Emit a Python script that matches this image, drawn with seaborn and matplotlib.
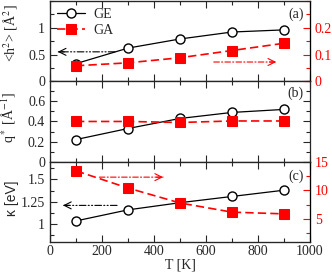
import numpy as np
import pandas as pd
import seaborn as sns
import matplotlib
matplotlib.use("Agg")
import matplotlib.pyplot as plt
from matplotlib.ticker import MultipleLocator, FixedLocator, FuncFormatter

# ---------------- data ----------------
T = [100, 300, 500, 700, 900]
h2_GE = [0.33, 0.62, 0.79, 0.92, 0.96]
h2_GA = [0.058, 0.069, 0.088, 0.115, 0.142]
q_GE = [0.22, 0.33, 0.43, 0.49, 0.52]
q_GA = [0.40, 0.40, 0.39, 0.405, 0.405]
k_GE = [1.036, 1.16, 1.24, 1.31, 1.38]
k_GA = [13.4, 10.4, 7.8, 6.2, 5.9]
series_labels = ["GE", "GA"]
panel_labels = ["(a)", "(b)", "(c)"]
x_ticks = [0, 200, 400, 600, 800, 1000]

# arrows: (x_start, x_end, y)
arrow_a_left = (250, 30, 0.55)
arrow_a_right = (630, 870, 0.072)
arrow_c_left = (258, 50, 1.21)
arrow_c_right = (190, 435, 12.3)

df = pd.DataFrame({"T": T, "h2_GE": h2_GE, "h2_GA": h2_GA, "q_GE": q_GE,
                   "q_GA": q_GA, "k_GE": k_GE, "k_GA": k_GA})

sns.set_style("ticks")
plt.rcParams["font.family"] = ["Liberation Serif", "DejaVu Serif"]
plt.rcParams["mathtext.fontset"] = "stix"
plt.rcParams["font.size"] = 10

RED = "#ff0000"
fig = plt.figure(figsize=(3.32, 2.73), dpi=100)
L, W, H = 0.1506, 0.7831, 0.2943
ax_a = fig.add_axes([L, 0.7022, W, H])
ax_b = fig.add_axes([L, 0.4079, W, H], sharex=ax_a)
ax_c = fig.add_axes([L, 0.1136, W, H], sharex=ax_a)

ge_kw = dict(color="black", marker="o", markersize=6.5, markerfacecolor="white",
             markeredgecolor="black", markeredgewidth=1.0, linewidth=0.9)
ga_kw = dict(color=RED, marker="s", markersize=6.5, markerfacecolor=RED,
             markeredgecolor=RED, linewidth=1.2, linestyle=(0, (5, 2.5)))


def style_axis(ax, right_mirror=True):
    ax.set_xlim(0, 1000)
    ax.xaxis.set_major_locator(FixedLocator(x_ticks))
    ax.xaxis.set_minor_locator(MultipleLocator(100))
    ax.tick_params(axis="both", which="both", direction="in", top=True,
                   right=right_mirror, labelsize=10, width=0.8)
    ax.tick_params(which="major", length=5)
    ax.tick_params(which="minor", length=3)
    for s in ax.spines.values():
        s.set_linewidth(0.9)
    ax.set_xlabel("")


def style_twin(tw):
    tw.tick_params(axis="y", which="both", direction="in", colors=RED,
                   labelcolor=RED, labelsize=10, width=0.8)
    tw.tick_params(which="major", length=5)
    tw.tick_params(which="minor", length=3)
    tw.spines["right"].set_color("black")
    tw.set_ylabel("")


def dash_arrow(ax, spec, color, ls):
    x0, x1, y = spec
    ax.annotate("", xy=(x1, y), xytext=(x0, y),
                arrowprops=dict(arrowstyle="-", color=color, lw=0.8,
                                linestyle=ls, shrinkA=0, shrinkB=0))
    d = 25 if x1 < x0 else -25
    ax.annotate("", xy=(x1, y), xytext=(x1 + d, y),
                arrowprops=dict(arrowstyle="->,head_length=0.5,head_width=0.25",
                                color=color, lw=0.8, shrinkA=0, shrinkB=0))


fmt = FuncFormatter(lambda v, p: f"{v:g}")

# ---- panel (a)
sns.lineplot(data=df, x="T", y="h2_GE", ax=ax_a, label=series_labels[0], **ge_kw)
ax_a.set_ylim(0, 1.5)
ax_a.yaxis.set_major_locator(FixedLocator([0, 0.5, 1]))
ax_a.yaxis.set_minor_locator(MultipleLocator(0.25))
ax_a.yaxis.set_major_formatter(fmt)
style_axis(ax_a, right_mirror=False)
ax_a.tick_params(labelbottom=False)
ax_a.set_ylabel(r"<h$^2$> [Å$^2$]", fontsize=10)
tw_a = ax_a.twinx()
sns.lineplot(data=df, x="T", y="h2_GA", ax=tw_a, label=series_labels[1], **ga_kw)
tw_a.set_ylim(0, 0.3)
tw_a.yaxis.set_major_locator(FixedLocator([0, 0.1, 0.2]))
tw_a.yaxis.set_minor_locator(MultipleLocator(0.05))
tw_a.yaxis.set_major_formatter(fmt)
style_twin(tw_a)
h1, l1 = ax_a.get_legend_handles_labels()
h2, l2 = tw_a.get_legend_handles_labels()
ax_a.get_legend().remove()
tw_a.legend(h1 + h2, l1 + l2, loc="upper left", frameon=False, fontsize=10,
            handlelength=2.0, handletextpad=0.6, labelspacing=0.2,
            borderaxespad=0.3, borderpad=0.2)
dash_arrow(ax_a, arrow_a_left, "black", (0, (6, 2, 1, 2, 1, 2)))
dash_arrow(tw_a, arrow_a_right, RED, (0, (5, 2, 1, 2)))
ax_a.text(0.975, 0.83, panel_labels[0], transform=ax_a.transAxes, ha="right",
          va="center", fontsize=10)

# ---- panel (b)
sns.lineplot(data=df, x="T", y="q_GE", ax=ax_b, **ge_kw)
sns.lineplot(data=df, x="T", y="q_GA", ax=ax_b, **ga_kw)
ax_b.set_ylim(0, 0.8)
ax_b.yaxis.set_major_locator(FixedLocator([0, 0.2, 0.4, 0.6]))
ax_b.yaxis.set_minor_locator(MultipleLocator(0.1))
ax_b.yaxis.set_major_formatter(fmt)
style_axis(ax_b, right_mirror=True)
ax_b.tick_params(labelbottom=False)
ax_b.set_ylabel(r"q$^*$ [Å$^{-1}$]", fontsize=10)
ax_b.text(0.975, 0.85, panel_labels[1], transform=ax_b.transAxes, ha="right",
          va="center", fontsize=10)

# ---- panel (c)
sns.lineplot(data=df, x="T", y="k_GE", ax=ax_c, **ge_kw)
ax_c.set_ylim(0.8, 1.7)
ax_c.yaxis.set_major_locator(FixedLocator([1, 1.25, 1.5]))
ax_c.yaxis.set_minor_locator(MultipleLocator(0.125))
ax_c.yaxis.set_major_formatter(fmt)
style_axis(ax_c, right_mirror=False)
ax_c.tick_params(axis="x", pad=2.5)
ax_c.set_ylabel("κ [eV]", fontsize=10, family=["Liberation Sans", "DejaVu Sans"])
ax_c.set_xlabel("T [K]", fontsize=10)
tw_c = ax_c.twinx()
sns.lineplot(data=df, x="T", y="k_GA", ax=tw_c, **ga_kw)
tw_c.set_ylim(1, 15)
tw_c.yaxis.set_major_locator(FixedLocator([5, 10, 15]))
tw_c.yaxis.set_minor_locator(MultipleLocator(2.5))
tw_c.yaxis.set_major_formatter(fmt)
style_twin(tw_c)
dash_arrow(ax_c, arrow_c_left, "black", (0, (6, 2, 1, 2, 1, 2)))
dash_arrow(tw_c, arrow_c_right, RED, (0, (5, 2, 1, 2)))
ax_c.text(0.975, 0.82, panel_labels[2], transform=ax_c.transAxes, ha="right",
          va="center", fontsize=10)

for ax, yl in ((ax_a, 0.6), (ax_b, 0.55), (ax_c, 0.55)):
    ax.yaxis.set_label_coords(-0.12, yl)
ax_c.xaxis.set_label_coords(0.5, -0.2)

fig.savefig("out.png", dpi=100)
